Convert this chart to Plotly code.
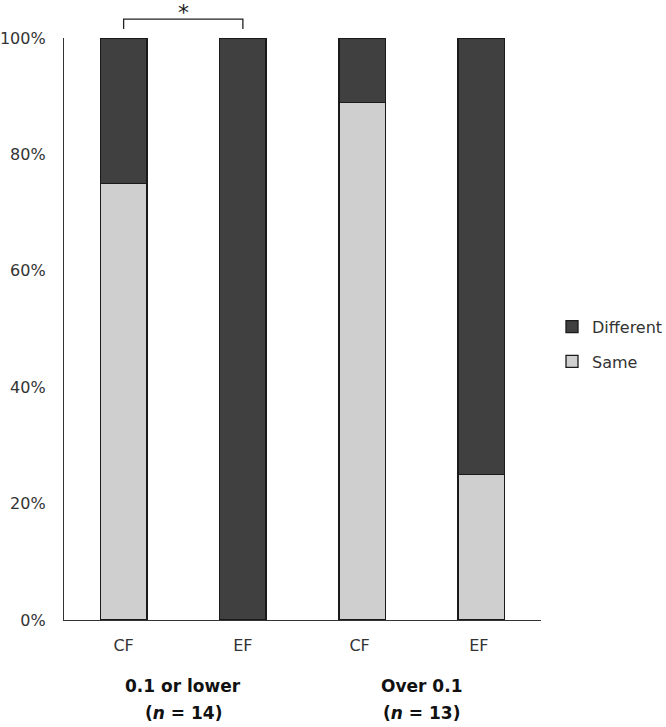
import plotly.graph_objects as go

categories = ["CF", "EF", "CF ", "EF "]
same_vals = [0.75, 0.0, 0.889, 0.25]
different_vals = [0.25, 1.0, 0.111, 0.75]
tick_vals = [0, 0.2, 0.4, 0.6, 0.8, 1.0]
tick_text = ["0%", "20%", "40%", "60%", "80%", "100%"]
group_line1 = ["<b>0.1 or lower</b>", "<b>Over 0.1</b>"]
group_line2 = ["<b>(<i>n</i> = 14)</b>", "<b>(<i>n</i> = 13)</b>"]
group_pos = [0.5, 2.5]

FONT = "DejaVu Sans"
DARK = "#404040"
LIGHT = "#d0cfd0"

fig = go.Figure()
fig.add_trace(go.Bar(x=categories, y=same_vals, name="Same", legendrank=2, legendgroup="s",
                     marker=dict(color=LIGHT, line=dict(color="#1a1a1a", width=1.3)),
                     width=0.39))
fig.add_trace(go.Bar(x=categories, y=different_vals, name="Different", legendrank=1, legendgroup="d",
                     marker=dict(color=DARK, line=dict(color="#1a1a1a", width=1.3)),
                     width=0.39))

# significance bracket between first two bars
fig.add_shape(type="path", xref="x", yref="paper",
              path="M 0,1.0155 L 0,1.0326 L 1,1.0326 L 1,1.0155",
              line=dict(color="#222", width=1.3))
fig.add_annotation(x=0.5, y=1.068, xref="x", yref="paper", text="*", showarrow=False,
                   yanchor="top",
                   font=dict(family=FONT, size=22, color="#222"))

for l1, l2, pos in zip(group_line1, group_line2, group_pos):
    fig.add_annotation(x=pos, y=0, xref="x", yref="paper", text=l1, showarrow=False,
                       yanchor="middle", yshift=-66,
                       font=dict(family=FONT, size=17, color="#111"))
    fig.add_annotation(x=pos, y=0, xref="x", yref="paper", text=l2, showarrow=False,
                       yanchor="middle", yshift=-93,
                       font=dict(family=FONT, size=17, color="#111"))

fig.update_layout(
    barmode="stack",
    width=666, height=727,
    margin=dict(l=64, r=125, t=38, b=107, autoexpand=False),
    plot_bgcolor="white", paper_bgcolor="white",
    font=dict(family=FONT, size=15, color="#333"),
    showlegend=True,
    legend=dict(x=552 / 666, y=0.474, xref="container", xanchor="left", yanchor="middle",
                traceorder="grouped", tracegroupgap=11, itemwidth=30,
                font=dict(family=FONT, size=16, color="#333"),
                bgcolor="rgba(0,0,0,0)"),
)
fig.update_xaxes(showline=True, linecolor="#333", linewidth=1.3, ticks="", automargin=False,
                 showgrid=False, range=[-0.5, 3.5], ticklabelstandoff=11,
                 tickfont=dict(family=FONT, size=16, color="#333"))
fig.update_yaxes(showline=True, linecolor="#333", linewidth=1.3, ticks="", automargin=False,
                 showgrid=False, zeroline=False, range=[0, 1],
                 tickvals=tick_vals, ticktext=tick_text, ticklabelstandoff=14,
                 tickfont=dict(family=FONT, size=16, color="#333"))

fig.write_html("out.html", config={"displayModeBar": False},
               post_script="document.body.style.margin='0';")
